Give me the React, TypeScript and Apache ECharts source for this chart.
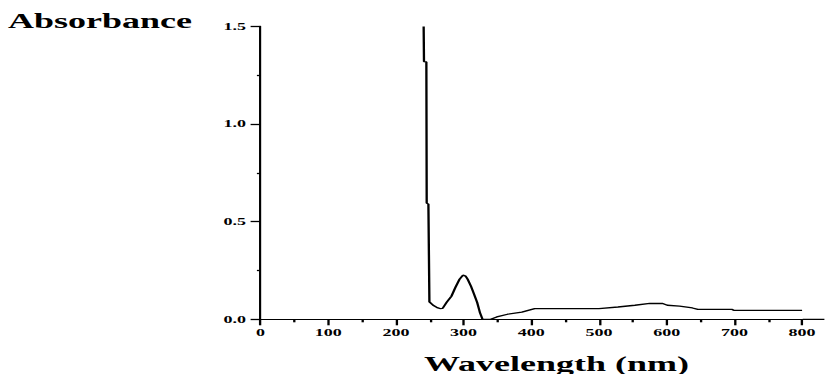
import React, { useEffect, useRef } from "react";
import * as echarts from "echarts";

// Horizontal stretch of the original bitmap chart
const STRETCH = 1.8;
const FULL_W = 825;
const FULL_H = 374;

const wavelength = [241, 241.5, 245, 245.5, 248, 249.5, 255, 261, 265, 269, 275, 282, 288, 294, 299, 303, 306, 311, 315, 320, 324, 328, 340, 349, 365, 386, 405, 500, 528, 553, 575, 594, 601, 619, 638, 646, 696, 699, 800];
const absorbance = [1.5, 1.32, 1.318, 0.595, 0.59, 0.089, 0.072, 0.06, 0.055, 0.056, 0.087, 0.118, 0.164, 0.205, 0.226, 0.221, 0.205, 0.169, 0.133, 0.087, 0.036, 0.0, 0.0, 0.012, 0.026, 0.037, 0.055, 0.055, 0.063, 0.072, 0.081, 0.081, 0.072, 0.067, 0.058, 0.051, 0.051, 0.046, 0.046];

const xTitle = "Wavelength (nm)";
const yTitle = "Absorbance";

const FONT = "'Liberation Serif', 'Times New Roman', serif";

export default function App() {
  const ref = useRef<HTMLDivElement>(null);
  useEffect(() => {
    if (!ref.current) return;
    const chart = echarts.init(ref.current, undefined, { renderer: "svg" });
    const w = FULL_W / STRETCH;
    const gridLeft = 260.5 / STRETCH;
    const gridRightPx = 802.7 / STRETCH;
    const axisY = 319.3;
    chart.setOption({
      animation: false,
      backgroundColor: "#ffffff",
      grid: { left: gridLeft, right: w - gridRightPx, top: 26.4, bottom: FULL_H - axisY },
      xAxis: {
        type: "value",
        min: 0,
        max: 800,
        interval: 100,
        splitLine: { show: false },
        axisLine: { show: true, onZero: false, lineStyle: { color: "#000", width: 1.2 } },
        axisTick: { show: true, length: 6, lineStyle: { color: "#000", width: 1.3 } },
        minorTick: { show: true, splitNumber: 2, length: 3, lineStyle: { color: "#000", width: 1.3 } },
        axisLabel: { color: "#000", fontFamily: FONT, fontWeight: "bold", fontSize: 10, margin: 8 },
      },
      yAxis: {
        type: "value",
        min: 0,
        max: 1.5,
        interval: 0.5,
        splitLine: { show: false },
        axisLine: { show: true, onZero: false, lineStyle: { color: "#000", width: 1.2 } },
        axisTick: { show: true, length: 5.5, lineStyle: { color: "#000", width: 1.3 } },
        minorTick: { show: true, splitNumber: 2, length: 2, lineStyle: { color: "#000", width: 1.3 } },
        axisLabel: {
          color: "#000",
          fontFamily: FONT,
          fontWeight: "bold",
          fontSize: 10,
          margin: 8,
          formatter: (v: number) => v.toFixed(1),
        },
      },
      series: [
        {
          type: "line",
          data: wavelength.map((x, i) => [x, absorbance[i]]),
          showSymbol: false,
          symbol: "none",
          clip: true,
          lineStyle: { color: "#000", width: 1.3 },
        },
      ],
      graphic: [
        {
          type: "line",
          shape: { x1: gridRightPx, y1: axisY, x2: w + 2, y2: axisY },
          style: { stroke: "#000", lineWidth: 1.2 },
        },
        {
          type: "text",
          x: 8 / STRETCH,
          y: 21.5,
          style: {
            text: yTitle,
            fill: "#000",
            font: `bold 20px ${FONT}`,
            align: "left",
            verticalAlign: "middle",
          },
        },
        {
          type: "text",
          x: 556.5 / STRETCH,
          y: 364.5,
          style: {
            text: xTitle,
            fill: "#000",
            font: `bold 20px ${FONT}`,
            align: "center",
            verticalAlign: "middle",
          },
        },
      ],
    });
    return () => chart.dispose();
  }, []);
  return (
    <div
      style={{
        position: "fixed",
        left: 0,
        top: 0,
        width: FULL_W,
        height: FULL_H,
        overflow: "hidden",
        background: "#fff",
      }}
    >
      <div
        ref={ref}
        style={{
          width: FULL_W / STRETCH,
          height: FULL_H,
          transform: `scaleX(${STRETCH})`,
          transformOrigin: "0 0",
        }}
      />
    </div>
  );
}
